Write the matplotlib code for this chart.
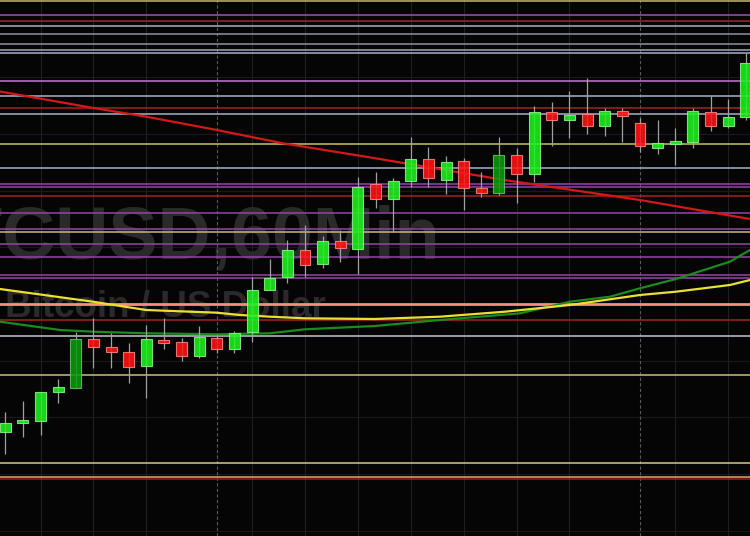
import matplotlib.pyplot as plt
import numpy as np

# Candles in screen units (y grows downward)
opens  = [431.7, 423.3, 420.7, 392, 387.7, 339.3, 347.3, 352.3, 366, 340.3,
          342.3, 356, 338.3, 349.3, 332.3, 290.3, 277.3, 249.7, 263.7, 241,
          249.3, 184.3, 198.7, 181, 158.7, 179.7, 161.3, 188, 193, 154.7,
          174.3, 112.3, 119.7, 114.3, 125.7, 111, 123.3, 147.7, 144.3, 141.7,
          112.3, 126, 117.3]
highs  = [412, 401, 391.7, 379.3, 331.7, 318, 333, 343, 325, 318.3,
          337.7, 326, 335, 331, 276.7, 259.3, 240, 225, 236, 230,
          177.3, 172, 178, 137, 147, 156, 158, 172.3, 137, 148.3,
          105.7, 102.3, 90.7, 77.7, 108.3, 108.3, 117.7, 120, 128.3, 108.3,
          95.7, 99, 53.3]
lows   = [454, 436.7, 435, 403.3, 387.7, 368, 367.7, 382.7, 398, 349,
          361, 357.7, 353, 353.3, 341.7, 290.3, 282.7, 277.3, 268.3, 262,
          274.3, 207.7, 231.7, 187, 187, 194, 210, 197, 195, 203.3,
          181.7, 145.7, 138.3, 134.3, 136, 142.3, 151.7, 154.3, 165, 148.3,
          131, 127.7, 120]
closes = [422.7, 420, 391.7, 387.3, 339.3, 347.3, 352.3, 366.7, 339.3, 342.7,
          356, 336.7, 349.3, 332.7, 290, 278, 249.7, 265.3, 241, 248.3,
          186.7, 198.7, 181, 158.7, 178.3, 162.3, 188.3, 192.7, 154.7, 174.3,
          112.3, 119.7, 115, 125.7, 111, 115.7, 146.3, 143.3, 141.3, 111,
          125.7, 117, 63.3]
dark_up = [4, 28]

# moving averages (x in candle index)
ma_red_x = [-0.3, 5, 8, 12, 15.75, 21, 28.3, 36, 42.24]
ma_red_y = [91.5, 108, 116.7, 130, 143.3, 158.3, 180, 200, 219]
ma_yel_x = [-0.3, 4.97, 7.98, 12.0, 13.31, 15.01, 17.0, 20.97, 24.66, 28.34,
            32.03, 36.0, 38.04, 41.1, 42.24]
ma_yel_y = [289, 301.7, 310, 312.7, 315, 316.7, 318.3, 319, 316.7, 311.7,
            305, 295, 291.7, 285, 280]
ma_grn_x = [-0.3, 3.1, 4.97, 7.98, 12.0, 15.01, 17.0, 20.97, 24.66, 29.2,
            32.03, 34.3, 36.0, 38.04, 41.1, 42.24]
ma_grn_y = [321.7, 330, 331.7, 333.3, 334.3, 333.3, 329.3, 326, 320, 313.3,
            301.7, 296.7, 288.3, 279, 261.7, 250]

# horizontal levels
levels = [0.7, 14.7, 20.5, 26, 33.5, 43.5, 49.5, 53, 80.5, 95.5, 108, 113.5,
          143.5, 168, 184, 187, 196, 212.7, 229, 232, 244, 257, 275, 278,
          303.7, 320, 336, 375, 463.3, 476.7, 479.3]
level_colors = ['#c8b866', '#9a52b4', '#a42222', '#a8b0c8', '#8a92a6', '#8a92a6',
                '#a0a8c0', '#a8b0c8', '#c676d8', '#a8b0c8', '#a42222', '#a8b0c8',
                '#c8c064', '#a8b0c8', '#9444a8', '#9444a8', '#a42222', '#9444a8',
                '#9444a8', '#d2b474', '#9444a8', '#9444a8', '#9444a8', '#9444a8',
                '#ff8a80', '#a42222', '#c4c4d4', '#c8c070', '#d2ca84', '#c8b870',
                '#a41a1a']

day_breaks = [12, 36]
grid_x = [2, 5, 8, 14, 17, 20, 23, 26, 29, 32, 38, 41]
grid_y = [20.5, 77.2, 133.9, 190.6, 247.3, 304, 360.7, 417.4, 474.1, 530.8]

fig = plt.figure(figsize=(7.5, 5.36), dpi=100, facecolor='#050505')
ax = fig.add_axes([0, 0, 1, 1])
ax.set_facecolor('#050505')
ax.set_xlim(-0.3, 42.24)
ax.set_ylim(536, 0)
ax.axis('off')

# сетка
for g in grid_x:
    ax.axvline(g, color='#202020', lw=0.8, zorder=0)
for g in grid_y:
    ax.axhline(g, color='#1a1a1a', lw=0.8, zorder=0)
for d in day_breaks:
    ax.axvline(d, color='#5a5a5a', lw=0.8, ls=(0, (3, 2)), zorder=0.5)

# водяной знак
ax.text(0.587, 1 - 258 / 536, 'BTCUSD,60Min', transform=ax.transAxes,
        ha='right', va='baseline', fontsize=53, fontweight='bold',
        family=['Liberation Sans', 'DejaVu Sans'], color='#2a2a2a', zorder=0.2)
ax.text(5 / 750, 1 - 316.7 / 536, 'Bitcoin / US Dollar', transform=ax.transAxes,
        ha='left', va='baseline', fontsize=26.5, fontweight='bold',
        family=['Liberation Sans', 'DejaVu Sans'], color='#2a2a2a', zorder=0.2)

for lv, c in zip(levels, level_colors):
    w = 2.0 if c == '#ff8a80' else 1.1
    ax.axhline(lv, color=c, lw=w, zorder=1)

ax.plot(ma_red_x, ma_red_y, color='#d41818', lw=1.6, zorder=2)
ax.plot(ma_grn_x, ma_grn_y, color='#1c8a1c', lw=1.6, zorder=2)
ax.plot(ma_yel_x, ma_yel_y, color='#e8e032', lw=1.6, zorder=2)

# свечи
idx = np.arange(len(opens))
o = np.array(opens)
c = np.array(closes)
up = c < o
face = np.where(up, '#1ef21e', '#ff1414')
edge = np.where(up, '#8cf08c', '#ff8080')
for k in dark_up:
    face[k] = '#0c9a0c'
    edge[k] = '#60c060'
ax.vlines(idx, highs, lows, color='#a0a0a0', lw=0.9, zorder=3)
ax.bar(idx, np.abs(c - o), bottom=np.minimum(o, c), width=0.62,
       color=face, edgecolor=edge, linewidth=0.8, alpha=0.88, zorder=4)

fig.savefig('out.png', dpi=100, facecolor=fig.get_facecolor())
